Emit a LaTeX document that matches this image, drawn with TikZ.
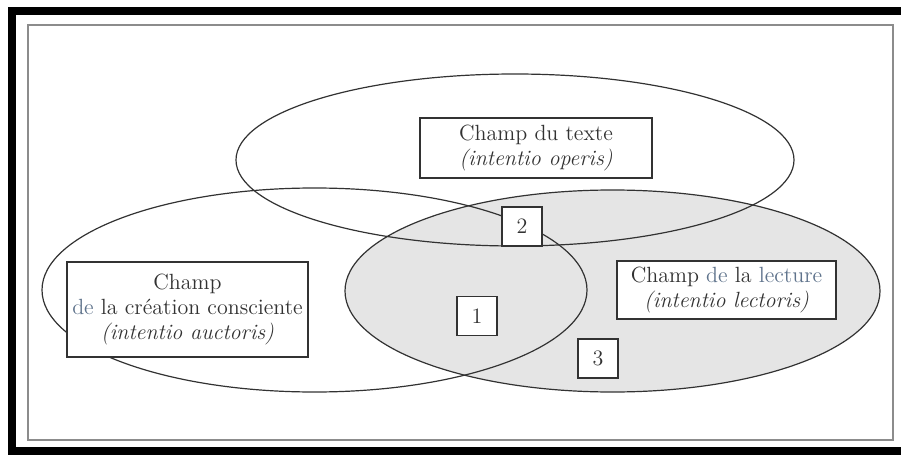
\documentclass[tikz,border=0pt]{standalone}
\usepackage{tikz}
\definecolor{ink}{RGB}{50,50,50}
\definecolor{bluegray}{RGB}{95,115,140}
\definecolor{lectfill}{RGB}{229,229,229}
\definecolor{framegray}{RGB}{140,140,140}

\begin{document}
\begin{tikzpicture}[x=0.5pt,y=-0.5pt,
	fieldline/.style={draw=ink, line width=0.6pt},
	fieldbox/.style={draw=ink, line width=0.6pt, fill=white, text=ink, align=center, inner sep=0pt, font=\fontsize{11}{12.5}\selectfont},
	numbox/.style={fieldbox, minimum width=20pt, minimum height=19.5pt}]
	\useasboundingbox (0,0) rectangle (901,455);
	% frame
	\fill (8,7) rectangle (901,15);
	\fill (8,7) rectangle (16,455);
	\fill (8,447) rectangle (901,455);
	\draw[framegray, line width=0.7pt] (28,25) rectangle (893,440);

	% the three fields
	\fill[fill=lectfill] (612.5,291) ellipse [x radius=133.75pt, y radius=50.5pt];
	\draw[fieldline] (515,160) ellipse [x radius=139.5pt, y radius=43pt];
	\draw[fieldline] (314.5,290) ellipse [x radius=136.25pt, y radius=51pt];
	\draw[fieldline] (612.5,291) ellipse [x radius=133.75pt, y radius=50.5pt];

	\node[fieldbox, minimum width=116pt, minimum height=30pt] (texte) at (536,148)
		{Champ du texte\\\textit{(intentio operis)}};
	\node[fieldbox, minimum width=120.5pt, minimum height=47.5pt] (auteur) at (187.5,309.5)
		{Champ\\\textcolor{bluegray}{de} la création consciente\\\textit{(intentio auctoris)}};
	\node[fieldbox, minimum width=109.5pt, minimum height=29pt] (lecture) at (726.5,290)
		{Champ \textcolor{bluegray}{de} la \textcolor{bluegray}{lecture}\\\textit{(intentio lectoris)}};

	\node[numbox] (n1) at (477,316) {1};
	\node[numbox] (n2) at (522,226.5) {2};
	\node[numbox] (n3) at (598,358.5) {3};
\end{tikzpicture}
\end{document}
